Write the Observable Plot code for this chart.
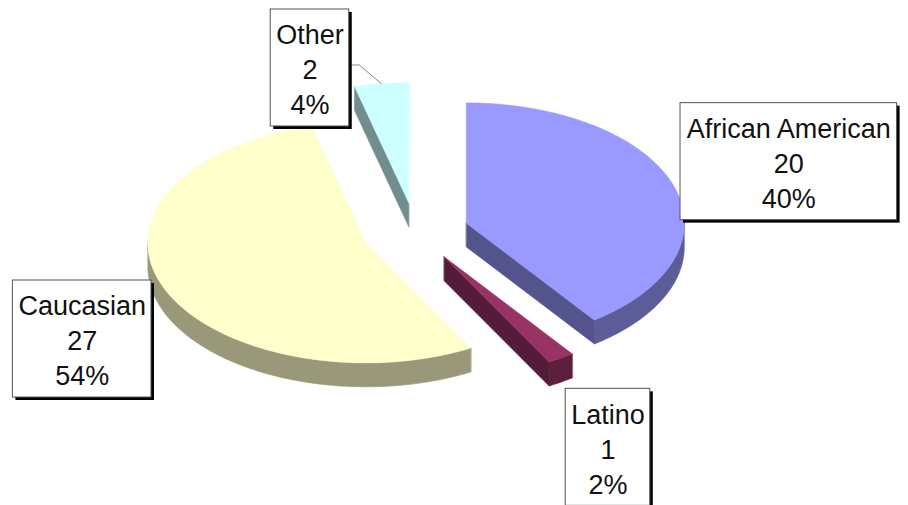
<!DOCTYPE html>
<html><head><meta charset="utf-8">
<script src="https://cdn.jsdelivr.net/npm/d3@7"></script>
<script src="https://cdn.jsdelivr.net/npm/@observablehq/plot@0.6"></script>
<style>html,body{margin:0;padding:0;background:#fff}svg{display:block}</style>
</head><body><div id="chart"></div>
<script>
// ---- data ----
const categories = ["African American", "Latino", "Caucasian", "Other"];
const counts = [20, 1, 27, 2];
const percents = ["40%", "2%", "54%", "4%"];
const topColors = ["#9999ff", "#993366", "#ffffcc", "#ccffff"];

// ---- layout ----
const W = 908, H = 505;
const CX = 415, CY = 231.5, RX = 218, RY = 120;   // pixel scale of the unit pie
const explode = 0.245;                            // in pie radii
const depth = 24 / RY;                            // 3D thickness in v units
const sideShade = 0.6;
const labelR = [1.81, 2.0, 1.77, 1.45];           // label distance (pie radii)
const labelNudge = [-0.9, 6.2, -8.65, -12.3];     // degrees from mid-angle
const hasLeader = [false, false, false, true];
const fontSize = 27, lineH = 35, padX = 5.5, boxH = 117;
const fontFamily = 'Arial, "Liberation Sans", sans-serif';

// ---- geometry from data ----
const arcs = d3.pie().sort(null).value(d => d)(counts);
const step = Math.PI / 180;
function arcPts(a0, a1, cu, cv, dv) {
  const n = Math.max(2, Math.ceil((a1 - a0) / step));
  const pts = [];
  for (let k = 0; k <= n; k++) {
    const a = a0 + (a1 - a0) * k / n;
    pts.push([cu + Math.sin(a), cv + Math.cos(a) - dv]);
  }
  return pts;
}
function shade(c, f) {
  const r = d3.rgb(c);
  return d3.rgb(r.r * f, r.g * f, r.b * f).formatHex();
}

const slices = arcs.map((a, i) => {
  const mid = (a.startAngle + a.endAngle) / 2;
  return {i, a0: a.startAngle, a1: a.endAngle, mid,
          cu: explode * Math.sin(mid), cv: explode * Math.cos(mid)};
});
// paint back to front
const order = slices.slice().sort((p, q) => q.cv - p.cv);

const polys = [];
let pid = 0;
function addPoly(pts, color) {
  const id = pid++;
  for (const [u, v] of pts) polys.push({poly: id, u, v, color});
}
for (const s of order) {
  const side = shade(topColors[s.i], sideShade);
  const radial = shade(topColors[s.i], sideShade * 0.92);
  // outer rim (front-facing part only)
  const lo = Math.max(s.a0, Math.PI / 2), hi = Math.min(s.a1, 3 * Math.PI / 2);
  if (hi > lo) {
    const top = arcPts(lo, hi, s.cu, s.cv, 0);
    const bot = arcPts(lo, hi, s.cu, s.cv, depth).reverse();
    addPoly(top.concat(bot), side);
  }
  // radial faces
  const radFace = a => {
    const p = [s.cu + Math.sin(a), s.cv + Math.cos(a)];
    addPoly([[s.cu, s.cv], p, [p[0], p[1] - depth], [s.cu, s.cv - depth]], radial);
  };
  if (Math.sin(s.a0) < -1e-6) radFace(s.a0);
  if (Math.sin(s.a1) > 1e-6) radFace(s.a1);
  // top face
  addPoly([[s.cu, s.cv]].concat(arcPts(s.a0, s.a1, s.cu, s.cv, 0)), topColors[s.i]);
}

// ---- labels ----
const ctx = document.createElement("canvas").getContext("2d");
ctx.font = `${fontSize}px ${fontFamily}`;
const labels = slices.map(s => {
  const th = s.mid + labelNudge[s.i] * Math.PI / 180;
  const u = labelR[s.i] * Math.sin(th), v = labelR[s.i] * Math.cos(th);
  const lines = [categories[s.i], String(counts[s.i]), percents[s.i]];
  const tw = d3.max(lines, l => ctx.measureText(l).width);
  const hw = (tw / 2 + padX) / RX, hh = (boxH / 2) / RY;
  return {i: s.i, u, v, text: lines.join("\n"),
          x1: u - hw, x2: u + hw, y1: v - hh, y2: v + hh};
});
const leaders = [];
labels.forEach(l => {
  if (!hasLeader[l.i]) return;
  const s = slices[l.i];
  leaders.push({k: l.i, u: l.x2, v: l.v + 3 / RY});
  leaders.push({k: l.i, u: l.x2 + 10 / RX, v: l.v + 3 / RY});
  leaders.push({k: l.i, u: s.cu + Math.sin(s.mid), v: s.cv + Math.cos(s.mid)});
});

const chart = Plot.plot({
  width: W, height: H,
  margin: 0,
  style: {background: "#fff"},
  x: {domain: [-CX / RX, (W - CX) / RX], axis: null},
  y: {domain: [(CY - H) / RY, CY / RY], axis: null},
  color: {type: "identity"},
  marks: [
    Plot.line(polys, {x: "u", y: "v", z: "poly", fill: "color", stroke: "color",
                      strokeWidth: 0.6, curve: "linear-closed"}),
    Plot.line(leaders, {x: "u", y: "v", z: "k", stroke: "#8a8a8a", strokeWidth: 1}),
    Plot.rect(labels, {x1: "x1", x2: "x2", y1: "y1", y2: "y2", fill: "#000", dx: 3, dy: 3}),
    Plot.rect(labels, {x1: "x1", x2: "x2", y1: "y1", y2: "y2", fill: "#fff",
                       stroke: "#555", strokeWidth: 1}),
    Plot.text(labels, {x: "u", y: "v", text: "text", fontSize, fontFamily,
                       lineHeight: lineH / fontSize, fill: "#111"})
  ]
});
document.getElementById("chart").append(chart);
</script>
</body></html>
